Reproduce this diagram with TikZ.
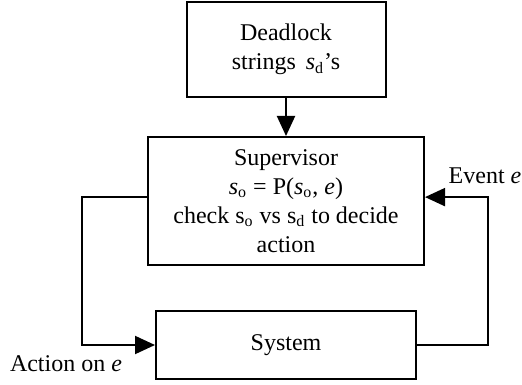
\documentclass[tikz,border=0pt,12pt]{standalone}
\usepackage{fontspec}
\setmainfont{Liberation Serif}
\usetikzlibrary{arrows.meta,positioning,calc}
\tikzset{
    block/.style={
        draw,
        rectangle,
        line width=1pt,
        align=center,
        inner sep=2pt
    },
    link/.style={
        line width=1pt,
        -{Triangle[length=10pt,width=9pt]}
    },
    label/.style={
        inner sep=1pt
    },
}

\begin{document}
\begin{tikzpicture}[x=0.5pt, y=-0.5pt]
    \useasboundingbox (0,0) rectangle (522,384);
    % blocks
    \node[block, minimum width=99.5pt, minimum height=47.5pt] (deadlock) at (286,49.5) {Deadlock\\strings \,\textit{s}\textsubscript{d}'s};
    \node[block, minimum width=138pt, minimum height=64pt] (supervisor) at (286,201) {Supervisor\\\textit{s}\textsubscript{o} = P(\textit{s}\textsubscript{o}, \textit{e})\\check s\textsubscript{o} vs s\textsubscript{d} to decide\\action};
    \node[block, minimum width=130pt, minimum height=34pt] (system) at (286,345) {System};
    % labels
    \node[label] (event) at (485,176) {Event \textit{e}};
    \node[label] (action) at (66,364) {Action on \textit{e}};
    % Input and outputs coordinates
    \coordinate[] (outact) at ($(supervisor.south west)!0.53!(supervisor.north west)$);
    \coordinate[] (inevent) at ($(supervisor.south east)!0.53!(supervisor.north east)$);

    % lines
    \draw[link] (deadlock) -- (supervisor);
    \draw[link] (outact) -- ++(-65,0) |- (system.west);
    \draw[link] (system.east) -- ++(71,0) |- (inevent);

\end{tikzpicture}
\end{document}
